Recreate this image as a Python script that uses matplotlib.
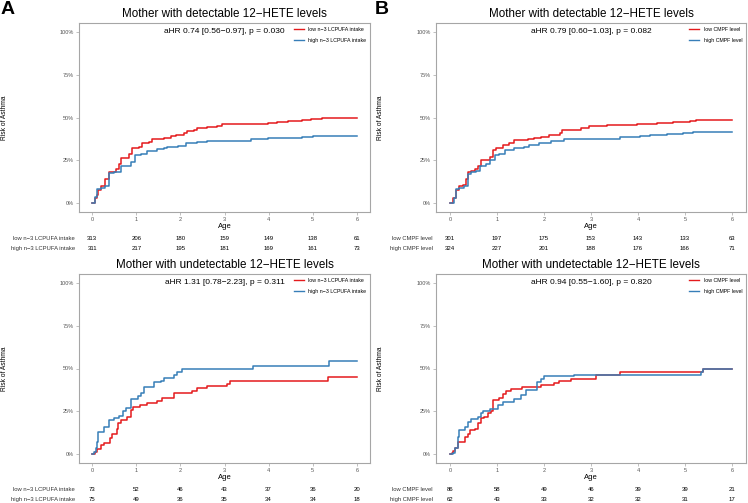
import matplotlib
matplotlib.use("Agg")
import matplotlib.pyplot as plt
from matplotlib.transforms import blended_transform_factory
from matplotlib.lines import Line2D

plt.rcParams['font.family'] = ['Liberation Sans', 'DejaVu Sans']

# ---- data (cumulative risk of asthma, %) ----
a_det_low_t = [0, 0.07, 0.1, 0.12, 0.19, 0.3, 0.39, 0.54, 0.61, 0.66, 0.84, 0.91, 1.06, 1.13, 1.28, 1.36, 1.62,
               1.78, 1.89, 2.08, 2.16, 2.3, 2.38, 2.6, 2.83, 2.95, 3.75, 3.98, 4.2, 4.43, 4.75, 4.97, 5.2, 6]
a_det_low_v = [0, 3, 5, 8, 10, 14, 18.5, 20, 23, 26.4, 29, 32.5, 33, 35, 36, 37.5, 38,
               39, 40, 41, 42, 42.5, 44, 44.5, 45, 46, 46.5, 47, 47.5, 48, 48.5, 49, 49.8, 49.8]
a_det_high_t = [0, 0.07, 0.11, 0.19, 0.3, 0.37, 0.39, 0.5, 0.58, 0.66, 0.81, 0.89, 0.96, 1.1, 1.24, 1.47, 1.62,
                1.7, 1.95, 2.13, 2.38, 2.6, 3.6, 3.98, 4.75, 5.0, 5.2, 6]
a_det_high_v = [0, 4, 8.5, 9, 10, 11, 17.5, 18, 18.5, 21.5, 22, 24, 27.9, 29, 30.5, 31.5, 32,
                33, 33.5, 35, 36, 36.5, 37.5, 38, 38.5, 39, 39.4, 39.4]

b_det_low_t = [0, 0.06, 0.13, 0.2, 0.27, 0.34, 0.38, 0.45, 0.52, 0.59, 0.66, 0.84, 0.91, 0.98, 1.12, 1.26, 1.37,
               1.65, 1.79, 1.93, 2.1, 2.34, 2.38, 2.78, 2.96, 3.34, 3.97, 4.4, 4.75, 5.1, 5.24, 6]
b_det_low_v = [0, 3, 8, 10, 11, 14, 18, 19, 20, 22, 25, 27, 31, 32, 34, 35, 37,
               37.5, 38, 38.5, 40, 41, 43, 44, 45, 45.5, 46, 47, 47.5, 48, 48.5, 48.5]
b_det_high_t = [0, 0.08, 0.13, 0.2, 0.3, 0.38, 0.45, 0.56, 0.63, 0.77, 0.84, 0.95, 1.05, 1.16, 1.37, 1.58, 1.69,
                1.9, 2.15, 2.43, 3.62, 4.04, 4.26, 4.61, 4.96, 5.17, 6]
b_det_high_v = [0, 3, 8.5, 9, 10, 17, 18, 19, 22, 23, 25, 28, 29, 31, 32, 33, 34,
                35, 36.5, 37.5, 38.5, 39.5, 40, 40.5, 41, 41.3, 41.3]

a_und_low_t = [0, 0.06, 0.11, 0.19, 0.26, 0.41, 0.44, 0.56, 0.59, 0.66, 0.78, 0.89, 0.93, 1.08, 1.24, 1.47, 1.58,
               1.85, 2.26, 2.38, 2.6, 3.06, 3.13, 5.35, 6]
a_und_low_v = [0, 1.5, 3, 5.5, 6.5, 9.5, 12, 15, 18, 20, 22, 26, 27.5, 29, 30, 31, 33,
               35.5, 37, 38.5, 40, 41, 43, 44.8, 44.8]
a_und_high_t = [0, 0.04, 0.08, 0.11, 0.14, 0.26, 0.39, 0.5, 0.61, 0.69, 0.76, 0.88, 1.03, 1.1, 1.17, 1.4, 1.55,
                1.62, 1.85, 1.92, 2.04, 3.65, 5.38, 6]
a_und_high_v = [0, 1.5, 4, 7, 13, 16, 20, 21, 22.5, 25, 27, 32, 34, 36, 39, 42, 42.5,
                44.5, 46, 48, 50, 51.5, 54.4, 54.4]

b_und_low_t = [0, 0.03, 0.06, 0.1, 0.17, 0.31, 0.38, 0.42, 0.52, 0.59, 0.66, 0.73, 0.8, 0.87, 0.91, 1.05, 1.12,
               1.19, 1.3, 1.54, 1.93, 2.21, 2.32, 2.57, 3.1, 3.62, 5.39, 6]
b_und_low_v = [0, 1, 2, 4, 7, 10, 12, 14, 14.5, 18, 21, 22, 24, 25, 31.5, 33, 35,
               37, 38, 39.5, 40.5, 41.5, 42.5, 44, 46.5, 48, 49.8, 49.8]
b_und_high_t = [0, 0.07, 0.1, 0.16, 0.2, 0.31, 0.38, 0.45, 0.59, 0.66, 0.7, 0.85, 1.02, 1.12, 1.37, 1.51, 1.61,
                1.86, 1.93, 2.0, 2.64, 5.35, 5.38, 6]
b_und_high_v = [0, 1, 4, 10, 14, 16, 19, 20.5, 22, 24, 25.5, 26.5, 28.5, 30.5, 32.5, 34.5, 37.5,
                42, 44, 45.5, 46, 48, 49.5, 49.5]

risk_times = [0, 1, 2, 3, 4, 5, 6]
a_det_low_n = [313, 206, 180, 159, 149, 138, 61]
a_det_high_n = [311, 217, 195, 181, 169, 161, 73]
b_det_low_n = [301, 197, 175, 153, 143, 133, 63]
b_det_high_n = [324, 227, 201, 188, 176, 166, 71]
a_und_low_n = [73, 52, 46, 43, 37, 36, 20]
a_und_high_n = [75, 49, 36, 35, 34, 34, 18]
b_und_low_n = [86, 58, 49, 46, 39, 39, 21]
b_und_high_n = [62, 43, 33, 32, 32, 31, 17]

a_groups = ["low n\u22123 LCPUFA intake", "high n\u22123 LCPUFA intake"]
b_groups = ["low CMPF level", "high CMPF level"]
titles = ["Mother with detectable 12\u2212HETE levels", "Mother with undetectable 12\u2212HETE levels"]
hr_text = {
    "a_det": "aHR 0.74 [0.56\u22120.97], p = 0.030",
    "b_det": "aHR 0.79 [0.60\u22121.03], p = 0.082",
    "a_und": "aHR 1.31 [0.78\u22122.23], p = 0.311",
    "b_und": "aHR 0.94 [0.55\u22121.60], p = 0.820",
}

RED = "#E41A1C"
BLUE = "#377EB8"
GREY = "#a6a6a6"

W, H = 748, 503
fig = plt.figure(figsize=(W / 100, H / 100), dpi=100)


def px_axes(left, top, right, bottom):
    return fig.add_axes([left / W, 1 - bottom / H, (right - left) / W, (bottom - top) / H])


def panel(box, low, high, low_n, high_n, groups, title, hr, label_x, ylab_x):
    left, top, right, bottom = box
    ax = px_axes(left, top, right, bottom)
    ax.step(low[0], low[1], where="post", color=RED, lw=1.1)
    ax.step(high[0], high[1], where="post", color=BLUE, lw=1.1)
    ax.set_xlim(-0.3, 6.3)
    ax.set_ylim(-5, 105)
    ax.set_xticks(risk_times)
    ax.set_yticks([0, 25, 50, 75, 100])
    ax.set_yticklabels(["0%", "25%", "50%", "75%", "100%"])
    for s in ax.spines.values():
        s.set_color(GREY)
        s.set_linewidth(0.8)
    ax.tick_params(colors=GREY, labelcolor="#555555", labelsize=4, length=2, width=0.5, pad=1.5)
    ax.set_xlabel("Age", fontsize=5.5, labelpad=1)
    ax.set_title(title, fontsize=8.4, pad=4)
    ax.text(0.5, 0.955, hr, transform=ax.transAxes, ha="center", va="center", fontsize=6)

    handles = [Line2D([], [], color=RED, lw=1), Line2D([], [], color=BLUE, lw=1)]
    ax.legend(handles, groups, loc="upper right", frameon=False, fontsize=3.8,
              handlelength=1.9, handletextpad=0.8, labelspacing=1.2,
              borderaxespad=0.3, bbox_to_anchor=(1.0, 1.0))

    # risk table below the x axis
    tr = blended_transform_factory(ax.transData, fig.transFigure)
    for row, counts in enumerate([low_n, high_n]):
        y = 1 - (bottom + 26.5 + row * 10) / H
        for t, n in zip(risk_times, counts):
            ax.text(t, y, str(n), transform=tr, ha="center", va="center", fontsize=4.3)
        fig.text(label_x / W, y, groups[row], ha="right", va="center", fontsize=4.2, color="#333333")

    fig.text(ylab_x / W, 1 - (top + bottom) / 2 / H, "Risk of Asthma", rotation=90,
             ha="center", va="center", fontsize=4.8)
    return ax


panel((79, 23, 370, 212), (a_det_low_t, a_det_low_v), (a_det_high_t, a_det_high_v),
      a_det_low_n, a_det_high_n, a_groups, titles[0], hr_text["a_det"], 75, 5)
panel((436, 23, 746, 212), (b_det_low_t, b_det_low_v), (b_det_high_t, b_det_high_v),
      b_det_low_n, b_det_high_n, b_groups, titles[0], hr_text["b_det"], 433, 381)
panel((79, 274, 370, 463), (a_und_low_t, a_und_low_v), (a_und_high_t, a_und_high_v),
      a_und_low_n, a_und_high_n, a_groups, titles[1], hr_text["a_und"], 75, 5)
panel((436, 274, 746, 463), (b_und_low_t, b_und_low_v), (b_und_high_t, b_und_high_v),
      b_und_low_n, b_und_high_n, b_groups, titles[1], hr_text["b_und"], 433, 381)

fig.text(1 / W, 1 - 9 / H, "A", fontsize=14, fontweight="bold", va="center", ha="left")
fig.text(375 / W, 1 - 9 / H, "B", fontsize=14, fontweight="bold", va="center", ha="left")

fig.savefig("out.png", dpi=100)
